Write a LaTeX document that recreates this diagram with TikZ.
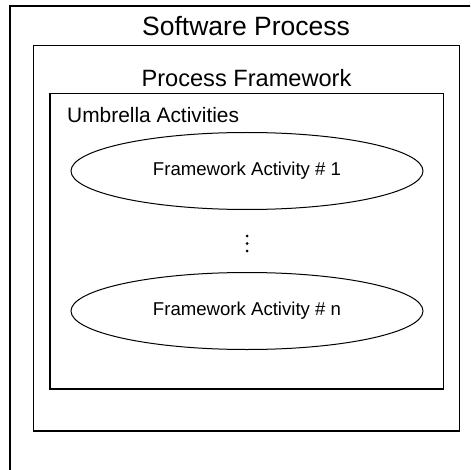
\documentclass[tikz,border=0pt]{standalone}
\usepackage{fontspec}
\setmainfont{Liberation Sans}
\usetikzlibrary{shapes.geometric}
\tikzstyle{boxS}=[draw=black, line width=1.8pt]
\tikzstyle{actS}=[ellipse, draw, line width=1pt, minimum width=352pt, minimum height=77pt, inner sep=0pt, font=\fontsize{18.6}{22}\selectfont]
\tikzstyle{tS}=[inner sep=0pt, anchor=base]

\begin{document}
\begin{tikzpicture}[x=1pt,y=-1pt]%[1 unit = 1 px, y downwards]

                \useasboundingbox (0,0) rectangle (470,470);
                \clip (0,0) rectangle (470,470);

                % nested boxes
                \draw[boxS] (10,6) rectangle (480,480);
                \draw[boxS] (33.5,45.5) rectangle (459.5,431);
                \draw[boxS] (50,93.5) rectangle (443.5,389);

                \draw (246,36) node[tS, font=\fontsize{26.5}{30}\selectfont] (sp) {Software Process};
                \draw (246.5,87) node[tS, font=\fontsize{23.6}{28}\selectfont] (pf) {Process Framework};
                \draw (67,123) node[tS, anchor=base west, font=\fontsize{20.9}{25}\selectfont] (ua) {Umbrella Activities};

                \draw (247,171) node[actS] (fa1) {Framework Activity \# 1};
                \draw (247,311) node[actS] (fan) {Framework Activity \# n};

                % vertical dots
                \foreach \y in {236,243.5,251}
                    \fill (247,\y) circle (1.5);

\end{tikzpicture}
\end{document}
